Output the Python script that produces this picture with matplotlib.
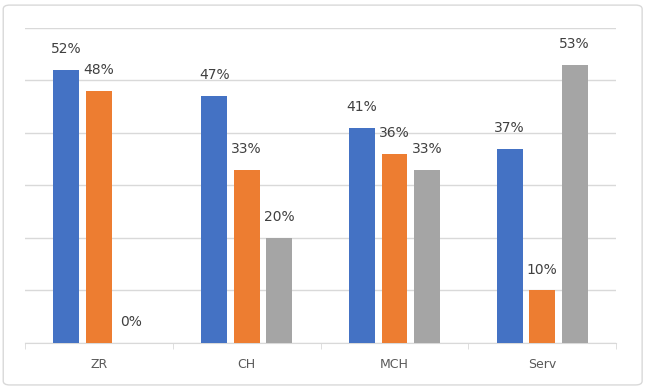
import matplotlib.pyplot as plt
import numpy as np
from matplotlib.patches import FancyBboxPatch

categories = ['ZR', 'CH', 'MCH', 'Serv']
series1 = [52, 47, 41, 37]
series2 = [48, 33, 36, 10]
series3 = [0, 20, 33, 53]

colors = ['#4472C4', '#ED7D31', '#A5A5A5']

fig = plt.figure(figsize=(6.46, 3.92), dpi=100)
ax = fig.add_axes([0.0387, 0.125, 0.915, 0.804])

# outer chart frame
frame = FancyBboxPatch((0.005, 0.018), 0.989, 0.969, boxstyle='round,pad=0,rounding_size=0.01',
                       transform=fig.transFigure, facecolor='none', edgecolor='#D9D9D9', lw=1)
fig.patches.append(frame)

x = np.arange(len(categories))
width = 0.175
step = 0.22

for i, vals in enumerate([series1, series2, series3]):
    pos = x + (i - 1) * step
    ax.bar(pos, vals, width, color=colors[i], zorder=3)
    for p, v in zip(pos, vals):
        ax.annotate('%d%%' % v, (p, v), xytext=(0, 15), textcoords='offset points',
                    ha='center', va='center', fontsize=10, color='#404040')

ax.set_xlim(-0.5, 3.5)
ax.set_ylim(0, 60)
ax.set_yticks(np.arange(0, 61, 10))
ax.yaxis.grid(True, color='#D9D9D9', lw=1, zorder=0)
ax.tick_params(axis='y', left=False, labelleft=False)

ax.set_xticks(x)
ax.set_xticklabels(categories, fontsize=9, color='#595959')
ax.tick_params(axis='x', length=0, pad=11)
ax.set_xticks(np.arange(-0.5, 3.6, 1), minor=True)
ax.tick_params(axis='x', which='minor', length=4, color='#D9D9D9')

for s in ['top', 'right', 'left']:
    ax.spines[s].set_visible(False)
ax.spines['bottom'].set_color('#D9D9D9')

fig.savefig('out.png', dpi=100)
